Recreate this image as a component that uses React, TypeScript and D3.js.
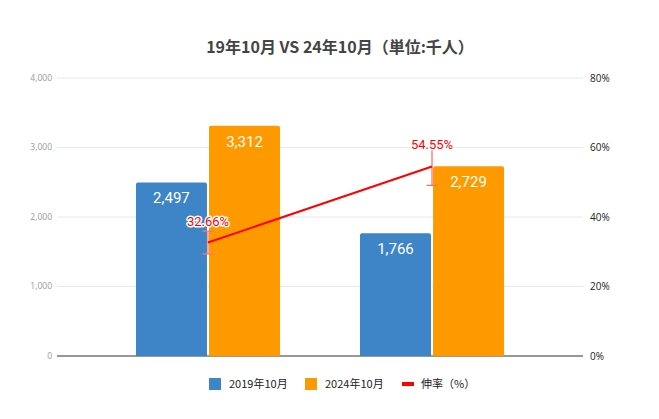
import * as d3 from "d3";

// data
const groups = ["グループA", "グループB"];
const seriesNames = ["2019年10月", "2024年10月"];
const oct2019 = [2497, 1766];
const oct2024 = [3312, 2729];
const growthRate = [32.66, 54.55]; // 伸率 (%)
const leftTicks = [0, 1000, 2000, 3000, 4000];
const rightTicks = [0, 20, 40, 60, 80];

const colors = ["#3d85c6", "#ff9900"];
const lineColor = "#ff0000";
const numFont = "Roboto, 'Noto Sans', sans-serif";
const cjkFont = "'Noto Sans CJK JP', 'Open Sans', sans-serif";

export default function App() {
  const width = 659;
  const height = 419;
  const margin = { top: 78, right: 76, bottom: 63, left: 57 };
  const innerW = width - margin.left - margin.right;
  const innerH = height - margin.top - margin.bottom;

  const x0 = d3
    .scaleBand<string>()
    .domain(groups)
    .range([0, innerW])
    .paddingInner(0.357)
    .paddingOuter(0.3525);
  const x1 = d3
    .scaleBand<string>()
    .domain(seriesNames)
    .range([0, x0.bandwidth()])
    .paddingInner(0.028);
  const yLeft = d3.scaleLinear().domain([0, 4000]).range([innerH, 0]);
  const yRight = d3.scaleLinear().domain([0, 80]).range([innerH, 0]);

  const values = [oct2019, oct2024];
  const fmt = d3.format(",");

  // line point sits on the boundary between the two bars of each group
  const px = (i: number) => x0(groups[i])! + x0.bandwidth() / 2;
  const line = d3
    .line<number>()
    .x((_, i) => px(i))
    .y((d) => yRight(d));

  // bar with slightly rounded top corners
  const barPath = (x: number, y: number, w: number, h: number) => {
    const r = Math.min(2, h);
    return `M${x},${y + h}V${y + r}Q${x},${y} ${x + r},${y}H${x + w - r}Q${x + w},${y} ${x + w},${y + r}V${y + h}Z`;
  };

  return (
    <svg width={width} height={height} style={{ position: "absolute", left: 0, top: 0 }}>
      <rect width={width} height={height} fill="#fff" />
      <text
        x={340}
        y={53}
        textAnchor="middle"
        fontFamily={cjkFont}
        fontWeight="bold"
        fontSize={16}
        fill="#444"
      >
        19年10月 VS 24年10月（単位:千人）
      </text>
      <g transform={`translate(${margin.left},${margin.top})`}>
        {/* gridlines + left axis */}
        {leftTicks.map((t) => (
          <g key={t}>
            {t !== 0 && (
              <line x1={0} x2={innerW} y1={yLeft(t)} y2={yLeft(t)} stroke="#e8e8e8" strokeWidth={1} />
            )}
            <text
              x={-5}
              y={yLeft(t)}
              dy="0.35em"
              textAnchor="end"
              fontFamily="'Open Sans', sans-serif"
              fontSize={8.5}
              fill="#999"
            >
              {fmt(t)}
            </text>
          </g>
        ))}
        {rightTicks.map((t) => (
          <text
            key={t}
            x={innerW + 7}
            y={yRight(t)}
            dy="0.35em"
            fontFamily="'Open Sans', sans-serif"
            fontSize={10}
            fill="#222"
          >
            {t}%
          </text>
        ))}
        <line x1={0} x2={innerW} y1={innerH} y2={innerH} stroke="#333" strokeWidth={1.2} />

        {/* bars */}
        {groups.map((g, gi) => (
          <g key={g} transform={`translate(${x0(g)},0)`}>
            {seriesNames.map((s, si) => {
              const v = values[si][gi];
              const bx = x1(s)!;
              const by = yLeft(v);
              return (
                <g key={s}>
                  <path d={barPath(bx, by, x1.bandwidth(), innerH - by)} fill={colors[si]} />
                  <text
                    x={bx + x1.bandwidth() / 2}
                    y={by + 21}
                    textAnchor="middle"
                    fontFamily={numFont}
                    fontSize={15}
                    fill="#fff"
                  >
                    {fmt(v)}
                  </text>
                </g>
              );
            })}
          </g>
        ))}

        {/* error bars (±10% of value) */}
        {growthRate.map((r, i) => {
          const lo = yRight(r * 0.9);
          const hi = yRight(r * 1.1);
          return (
            <g key={i} stroke="#ff6f6f" strokeWidth={1.3}>
              <line x1={px(i)} x2={px(i)} y1={hi} y2={lo} />
              <line x1={px(i) - 5.5} x2={px(i) + 5.5} y1={hi} y2={hi} />
              <line x1={px(i) - 5.5} x2={px(i) + 5.5} y1={lo} y2={lo} />
            </g>
          );
        })}

        {/* growth line */}
        <path d={line(growthRate) ?? ""} fill="none" stroke={lineColor} strokeWidth={2} />
        {growthRate.map((r, i) => (
          <text
            key={i}
            x={px(i)}
            y={yRight(r) - 17}
            textAnchor="middle"
            fontFamily={numFont}
            fontSize={13}
            fill={lineColor}
            stroke="#fff"
            strokeWidth={3}
            paintOrder="stroke"
            strokeLinejoin="round"
          >
            {r.toFixed(2)}%
          </text>
        ))}
      </g>

      {/* legend */}
      <g fontFamily={cjkFont} fontSize={11} fill="#222">
        <rect x={209} y={378} width={12} height={12} fill={colors[0]} />
        <text x={229} y={388}>{seriesNames[0]}</text>
        <rect x={305} y={378} width={12} height={12} fill={colors[1]} />
        <text x={325} y={388}>{seriesNames[1]}</text>
        <rect x={402} y={382} width={12} height={4} fill={lineColor} />
        <text x={421} y={388}>伸率（%）</text>
      </g>
    </svg>
  );
}
